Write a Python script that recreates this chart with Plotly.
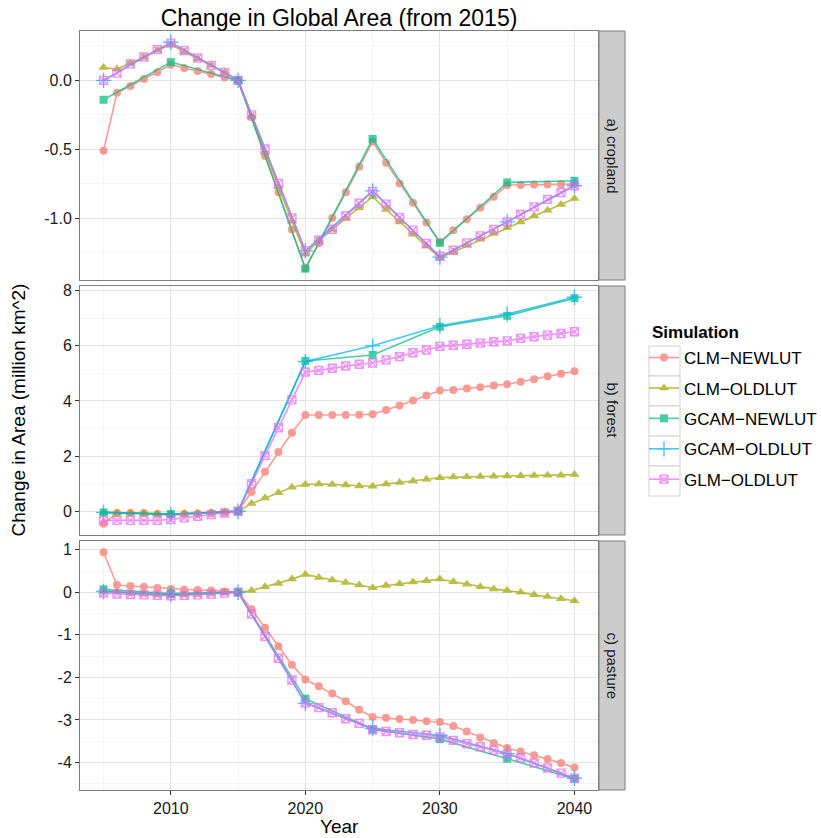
import plotly.graph_objects as go
from plotly.subplots import make_subplots

# ---------------- data ----------------
years = list(range(2005, 2041))
years5 = [2005, 2010, 2015, 2020, 2025, 2030, 2035, 2040]
series_names = ["CLM−NEWLUT", "CLM−OLDLUT", "GCAM−NEWLUT", "GCAM−OLDLUT", "GLM−OLDLUT"]
panel_labels = ["a) cropland", "b) forest", "c) pasture"]

# a) cropland
clm_new_crop = [-0.51, -0.09, -0.04, 0.01, 0.06, 0.114, 0.09, 0.068, 0.046, 0.022, 0.0,
                -0.266, -0.547, -0.81, -1.08, -1.36, -1.18, -0.996, -0.81, -0.625, -0.443,
                -0.596, -0.746, -0.887, -1.03, -1.17, -1.085, -1.005, -0.923, -0.843, -0.758,
                -0.758, -0.755, -0.755, -0.753, -0.751]
clm_old_crop = [0.094, 0.082, 0.126, 0.167, 0.218, 0.259, 0.206, 0.157, 0.109, 0.06, 0.0,
                -0.26, -0.52, -0.77, -1.02, -1.26, -1.158, -1.08, -1.0, -0.923, -0.843,
                -0.935, -1.025, -1.114, -1.2, -1.286, -1.243, -1.194, -1.151, -1.11, -1.066,
                -1.025, -0.981, -0.94, -0.899, -0.855]
gcam_new_crop = [-0.14, 0.133, 0.0, -1.364, -0.424, -1.177, -0.739, -0.727]
gcam_old_crop = [0.0, 0.276, 0.0, -1.235, -0.80, -1.28, -1.025, -0.763]
glm_old_crop = [0.0, 0.053, 0.12, 0.17, 0.223, 0.27, 0.216, 0.162, 0.109, 0.058, 0.0,
                -0.25, -0.497, -0.746, -0.996, -1.235, -1.158, -1.078, -0.981, -0.89, -0.804,
                -0.896, -0.993, -1.085, -1.182, -1.274, -1.23, -1.177, -1.126, -1.08, -1.025,
                -0.971, -0.916, -0.862, -0.812, -0.763]

# b) forest
clm_new_for = [-0.45, -0.06, -0.06, -0.06, -0.1, -0.12, -0.1, -0.09, -0.06, -0.04, 0.0,
               0.70, 1.43, 2.15, 2.85, 3.49, 3.49, 3.49, 3.49, 3.50, 3.52,
               3.67, 3.84, 4.02, 4.20, 4.38, 4.40, 4.45, 4.50, 4.56, 4.61,
               4.70, 4.79, 4.90, 4.99, 5.08]
clm_old_for = [-0.05, -0.06, -0.07, -0.08, -0.09, -0.1, -0.08, -0.06, -0.04, -0.02, 0.0,
               0.28, 0.48, 0.67, 0.87, 0.97, 0.99, 0.97, 0.95, 0.92, 0.91,
               0.99, 1.04, 1.10, 1.16, 1.22, 1.24, 1.25, 1.26, 1.27, 1.28,
               1.29, 1.30, 1.31, 1.31, 1.33]
gcam_new_for = [-0.04, -0.1, 0.0, 5.45, 5.67, 6.69, 7.09, 7.73]
gcam_old_for = [-0.04, -0.12, 0.0, 5.43, 6.0, 6.73, 7.15, 7.76]
glm_old_for = [-0.33, -0.33, -0.33, -0.33, -0.33, -0.30, -0.24, -0.18, -0.12, -0.06, 0.0,
               1.0, 2.02, 3.03, 4.04, 5.05, 5.11, 5.19, 5.27, 5.33, 5.38,
               5.49, 5.61, 5.75, 5.85, 5.98, 6.02, 6.06, 6.10, 6.15, 6.18,
               6.27, 6.33, 6.39, 6.45, 6.51]

# c) pasture
clm_new_past = [0.94, 0.17, 0.15, 0.13, 0.10, 0.08, 0.06, 0.055, 0.04, 0.02, 0.0,
                -0.40, -0.83, -1.27, -1.70, -2.05, -2.21, -2.38, -2.56, -2.76, -2.93,
                -2.95, -2.98, -3.0, -3.03, -3.05, -3.14, -3.27, -3.41, -3.54, -3.66,
                -3.74, -3.83, -3.92, -4.01, -4.12]
clm_old_past = [0.02, 0.01, -0.02, -0.04, -0.06, -0.07, -0.06, -0.05, -0.03, -0.01, 0.0,
                0.04, 0.13, 0.21, 0.31, 0.42, 0.35, 0.29, 0.23, 0.17, 0.11,
                0.16, 0.20, 0.24, 0.27, 0.31, 0.25, 0.19, 0.13, 0.08, 0.04,
                0.0, -0.06, -0.10, -0.15, -0.20]
gcam_new_past = [0.07, -0.03, 0.0, -2.50, -3.22, -3.45, -3.91, -4.38]
gcam_old_past = [0.02, -0.05, 0.0, -2.61, -3.20, -3.36, -3.79, -4.37]
glm_old_past = [-0.02, -0.04, -0.05, -0.06, -0.07, -0.08, -0.07, -0.06, -0.04, -0.02, 0.0,
                -0.51, -1.04, -1.55, -2.06, -2.60, -2.71, -2.83, -2.97, -3.08, -3.23,
                -3.27, -3.30, -3.34, -3.36, -3.40, -3.48, -3.56, -3.63, -3.71, -3.81,
                -3.89, -4.01, -4.13, -4.25, -4.37]

x_ticks = [2010, 2020, 2030, 2040]
x_minor = [2005, 2015, 2025, 2035]
y_ticks = [[0.0, -0.5, -1.0], [0, 2, 4, 6, 8], [1, 0, -1, -2, -3, -4]]
y_minor = [[0.25, -0.25, -0.75, -1.25], [-1, 1, 3, 5, 7], [0.5, -0.5, -1.5, -2.5, -3.5, -4.5]]
y_fmt = ["{:.1f}", "{:.0f}", "{:.0f}"]

# ---------------- styling ----------------
colors = ["#F8766D", "#A3A500", "#00BF7D", "#00B0F6", "#E76BF3"]
symbols = ["circle", "triangle-up", "square", "cross-thin-open", "square-x-open"]
msizes = [8, 9, 8, 11, 8]
FONT = "Liberation Sans, Arial, Helvetica, sans-serif"

panels = [
    [(years, clm_new_crop), (years, clm_old_crop), (years5, gcam_new_crop), (years5, gcam_old_crop), (years, glm_old_crop)],
    [(years, clm_new_for), (years, clm_old_for), (years5, gcam_new_for), (years5, gcam_old_for), (years, glm_old_for)],
    [(years, clm_new_past), (years, clm_old_past), (years5, gcam_new_past), (years5, gcam_old_past), (years, glm_old_past)],
]

W, H = 821, 838
L, R, T, B = 80, 223, 31, 48
pw, ph = W - L - R, H - T - B
gap = 6

def px_x(p):
    return (p - L) / pw

def px_y(p):
    return (H - B - p) / ph

fig = make_subplots(rows=3, cols=1, shared_xaxes=True, vertical_spacing=gap / ph)

for r, panel in enumerate(panels, start=1):
    for k, (xs, ys) in enumerate(panel):
        fig.add_trace(go.Scatter(
            x=xs, y=ys, mode="lines+markers", name=series_names[k],
            legendgroup=series_names[k], showlegend=(r == 1),
            opacity=0.72,
            line=dict(color=colors[k], width=1.6),
            marker=dict(symbol=symbols[k], size=msizes[k], color=colors[k],
                        line=dict(color=colors[k], width=1.4 if k >= 3 else 0)),
        ), row=r, col=1)

def fmt(v, f):
    s = f.format(v)
    if s.startswith("-") and float(s) == 0:
        s = s[1:]
    return s

for r in range(1, 4):
    allv = [v for _, ys in panels[r - 1] for v in ys]
    lo, hi = min(allv), max(allv)
    pad = (hi - lo) * 0.05
    fig.update_yaxes(
        row=r, col=1, range=[lo - pad, hi + pad],
        tickvals=y_ticks[r - 1], ticktext=[fmt(v, y_fmt[r - 1]) for v in y_ticks[r - 1]],
        ticks="outside", ticklen=4, tickcolor="#333333", tickwidth=1,
        tickfont=dict(family=FONT, size=16, color="#1a1a1a"),
        showgrid=True, gridcolor="#E3E3E3", gridwidth=1,
        minor=dict(tickvals=y_minor[r - 1], showgrid=True, gridcolor="#F4F4F4", gridwidth=1, ticklen=0),
        showline=True, linecolor="#7F7F7F", linewidth=1, mirror=True, zeroline=False,
    )
    fig.update_xaxes(
        row=r, col=1, range=[2003.25, 2041.75],
        tickvals=x_ticks, ticktext=[str(v) for v in x_ticks],
        ticks="outside" if r == 3 else "", ticklen=4, tickcolor="#333333",
        showticklabels=(r == 3),
        tickfont=dict(family=FONT, size=16, color="#1a1a1a"),
        showgrid=True, gridcolor="#E3E3E3", gridwidth=1,
        minor=dict(tickvals=x_minor, showgrid=True, gridcolor="#F4F4F4", gridwidth=1, ticklen=0),
        showline=True, linecolor="#7F7F7F", linewidth=1, mirror=True, zeroline=False,
    )

# facet strips on the right
strip_x0 = px_x(599)
strip_x1 = px_x(625)
for r in range(1, 4):
    dom = fig.layout["yaxis" if r == 1 else f"yaxis{r}"].domain
    fig.add_shape(type="rect", xref="paper", yref="paper",
                  x0=strip_x0, x1=strip_x1, y0=dom[0], y1=dom[1],
                  fillcolor="#CCCCCC", line=dict(color="#7F7F7F", width=1))
    fig.add_annotation(xref="paper", yref="paper", x=(strip_x0 + strip_x1) / 2,
                       y=(dom[0] + dom[1]) / 2, text=panel_labels[r - 1],
                       textangle=90, showarrow=False, xanchor="center", yanchor="middle",
                       font=dict(family=FONT, size=15, color="#1a1a1a"))

# legend key boxes (ggplot style)
for i in range(len(series_names)):
    cy = 361 + 30 * i
    fig.add_shape(type="rect", xref="paper", yref="paper",
                  x0=px_x(649), x1=px_x(680), y0=px_y(cy + 15), y1=px_y(cy - 15),
                  fillcolor="white", line=dict(color="#D0D0D0", width=1), layer="below")

# legend title
fig.add_annotation(xref="paper", yref="paper", x=px_x(650), y=px_y(332),
                   text="<b>Simulation</b>", showarrow=False, xanchor="left", yanchor="middle",
                   font=dict(family=FONT, size=17, color="black"))

# axis titles
fig.add_annotation(xref="paper", yref="paper", x=px_x(18), y=0.5,
                   text="Change in Area (million km^2)", textangle=-90, showarrow=False,
                   xanchor="center", yanchor="middle",
                   font=dict(family=FONT, size=19, color="black"))
fig.add_annotation(xref="paper", yref="paper", x=0.5, y=px_y(826),
                   text="Year", showarrow=False, xanchor="center", yanchor="middle",
                   font=dict(family=FONT, size=19, color="black"))

fig.update_layout(
    width=W, height=H,
    margin=dict(l=L, r=R, t=T, b=B, pad=0, autoexpand=False),
    paper_bgcolor="white", plot_bgcolor="white",
    title=dict(text="Change in Global Area (from 2015)", x=339 / W, xanchor="center",
               y=1 - 18 / H, yanchor="middle", yref="container",
               font=dict(family=FONT, size=23, color="black")),
    legend=dict(
        font=dict(family=FONT, size=17, color="black"),
        x=px_x(644), xanchor="left", y=px_y(340), yanchor="top",
        tracegroupgap=5.3, bgcolor="rgba(0,0,0,0)", itemwidth=30,
    ),
    font=dict(family=FONT),
)

fig.write_html("out.html", config={"displayModeBar": False},
               post_script="document.body.style.margin='0';document.body.style.overflow='hidden';")
